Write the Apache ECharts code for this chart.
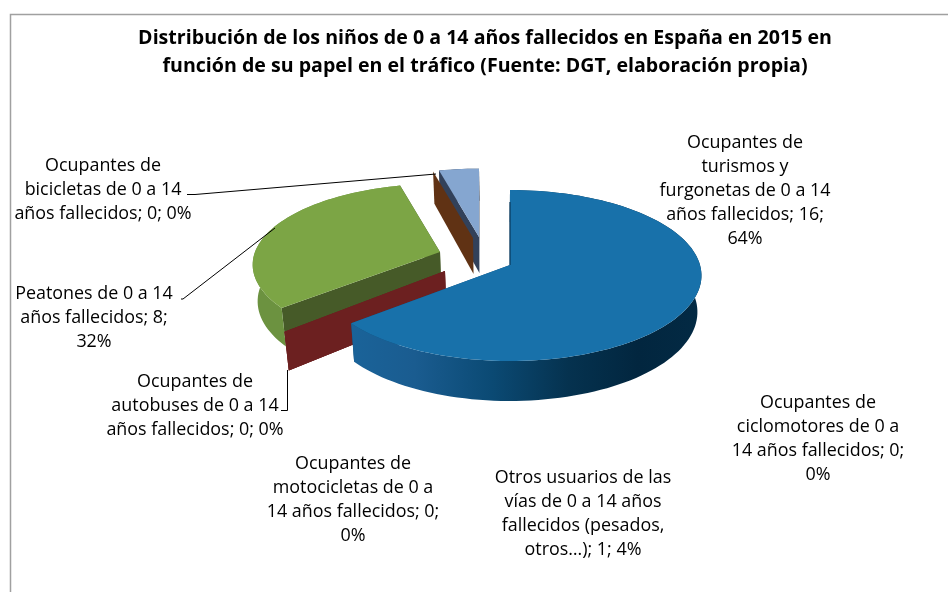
<!DOCTYPE html>
<html><head><meta charset="utf-8">
<style>html,body{margin:0;padding:0;background:#fff}#c{width:948px;height:592px}</style>
<script src="https://cdn.jsdelivr.net/npm/echarts@6/dist/echarts.min.js"></script>
</head><body><div id="c"></div>
<script>
const categories = ['Ocupantes de turismos y furgonetas de 0 a 14 años fallecidos','Ocupantes de ciclomotores de 0 a 14 años fallecidos','Ocupantes de motocicletas de 0 a 14 años fallecidos','Ocupantes de autobuses de 0 a 14 años fallecidos','Peatones de 0 a 14 años fallecidos','Ocupantes de bicicletas de 0 a 14 años fallecidos','Otros usuarios de las vías de 0 a 14 años fallecidos (pesados, otros…)'];
const values = [16,0,0,0,8,0,1];
const titleLines = ['Distribución de los niños de 0 a 14 años fallecidos en España en 2015 en','función de su papel en el tráfico (Fuente: DGT, elaboración propia)'];
const labelLines = [
 ['Ocupantes de','turismos y','furgonetas de 0 a 14','años fallecidos; 16;','64%'],
 ['Ocupantes de','ciclomotores de 0 a','14 años fallecidos; 0;','0%'],
 ['Ocupantes de','motocicletas de 0 a','14 años fallecidos; 0;','0%'],
 ['Ocupantes de','autobuses de 0 a 14','años fallecidos; 0; 0%'],
 ['Peatones de 0 a 14','años fallecidos; 8;','32%'],
 ['Ocupantes de','bicicletas de 0 a 14','años fallecidos; 0; 0%'],
 ['Otros usuarios de las','vías de 0 a 14 años','fallecidos (pesados,','otros…); 1; 4%']
];
// layout and style
const labelPos = [[745,131],[818,391],[353,452],[195,370],[94,282],[103,154],[583,466]];
const apex = [[510,265],[445,271],[445,271],[445,271],[440,252],[473,238],[479,237]];
const geomFront = [190,84.2,0.123], geomRed = [192,88,0.123], geomBack = [185,79,0.157];
const geom = [geomFront,geomRed,geomRed,geomRed,geomBack,geomBack,geomBack];
const topCol = ['#1871aa','#6c2020','#6c2020','#6c2020','#7ca545','#603214','#85a6d0'];
const wallCol = ['#0f4a75','#6c2020','#6c2020','#6c2020','#465a28','#603214','#32415a'];
const sideCol = ['#0f4a75','#6c2020','#6c2020','#6c2020','#6c9240','#603214','#32415a'];
const drawOrder = [6,5,4,1,2,3,0];
const DEPTH=36, DEPTHK=0.11, VX=500, SHRINK=0.98;
const leaders = [
 [[187,194.5],[195,194.5],[436,174]],
 [[181,299],[183,299],[275,228]],
 [[281,410.5],[287.5,410.5],[287.5,370]]
];
const total = values.reduce((a,b)=>a+b,0);
let run=0;
const spans = values.map(v=>{const s=run; run+=v/total*360; return [s,run];});
function topPoint(i,deg){const t=deg*Math.PI/180,u=Math.sin(t),v=-Math.cos(t);
  const [Rx,Ry,K]=geom[i], s=1/(1-K*v);
  return [apex[i][0]+Rx*u*s, apex[i][1]+Ry*v*s, v];}
function below(p){const d=DEPTH*(1+DEPTHK*p[2]);
  return [VX+(p[0]-VX)*SHRINK, p[1]+d];}
function sideGradient(i){
  if(i!==0) return sideCol[i];
  return {type:'linear',x:0,y:0,x2:1,y2:0,colorStops:[
    {offset:0,color:'#1a6399'},{offset:.18,color:'#1a5c90'},{offset:.4,color:'#0b4a74'},
    {offset:.62,color:'#05324f'},{offset:.82,color:'#02263f'},{offset:1,color:'#032a44'}]};
}
function sliceShapes(i){
  const [a,b]=spans[i], out=[];
  const A=[apex[i][0],apex[i][1],0], arc=[];
  const n=Math.max(1,Math.round((b-a)/2));
  for(let k=0;k<=n;k++) arc.push(topPoint(i,a+(b-a)*k/n));
  function wall(p,col){
    out.push({type:'polygon',shape:{points:[[A[0],A[1]],[p[0],p[1]],below(p),below(A)]},style:{fill:col}});
  }
  if(b-a>0){
    wall(arc[n],wallCol[i]);
    wall(arc[0],wallCol[i]);
    const pts=arc.map(p=>[p[0],p[1]]).concat(arc.slice().reverse().map(below));
    out.push({type:'polygon',shape:{points:pts},style:{fill:sideGradient(i)}});
    out.push({type:'polygon',shape:{points:[[A[0],A[1]]].concat(arc.map(p=>[p[0],p[1]]))},style:{fill:topCol[i]}});
    if(i===0) out.push({type:'polyline',shape:{points:[[A[0],A[1]],[arc[0][0],arc[0][1]+12]]},style:{stroke:'#0a3a5c',lineWidth:1.2,fill:null}});
  } else {
    wall(arc[0],wallCol[i]);
  }
  return out;
}
const chart=echarts.init(document.getElementById('c'),null,{renderer:'canvas'});
const font='"Open Sans"';
chart.setOption({
  animation:false,
  backgroundColor:'#fff',
  title:{text:titleLines.join('\n'),left:480,top:19,textAlign:'center',
    textStyle:{fontFamily:font,fontWeight:'bold',fontSize:19.6,lineHeight:28,color:'#000'}},
  graphic:[
    {type:'polyline',silent:true,shape:{points:[[10.5,592],[10.5,14.5],[948,14.5]]},style:{stroke:'#a0a0a0',lineWidth:1.5,fill:null}},
    ...leaders.map(p=>({type:'polyline',silent:true,z:100,shape:{points:p},style:{stroke:'#000',lineWidth:1,fill:null}})),
    ...labelLines.map((l,i)=>({type:'text',silent:true,z:100,x:labelPos[i][0],y:labelPos[i][1],
      style:{text:l.join('\n'),align:'center',verticalAlign:'top',font:'17.9px "Open Sans"',lineHeight:24,fill:'#000'}}))
  ],
  series:[{type:'custom',coordinateSystem:'none',silent:true,
    data:drawOrder.map(i=>({name:categories[i],value:[i,values[i]]})),
    renderItem:(params,api)=>({type:'group',children:sliceShapes(api.value(0))})
  }]
});
</script></body></html>
